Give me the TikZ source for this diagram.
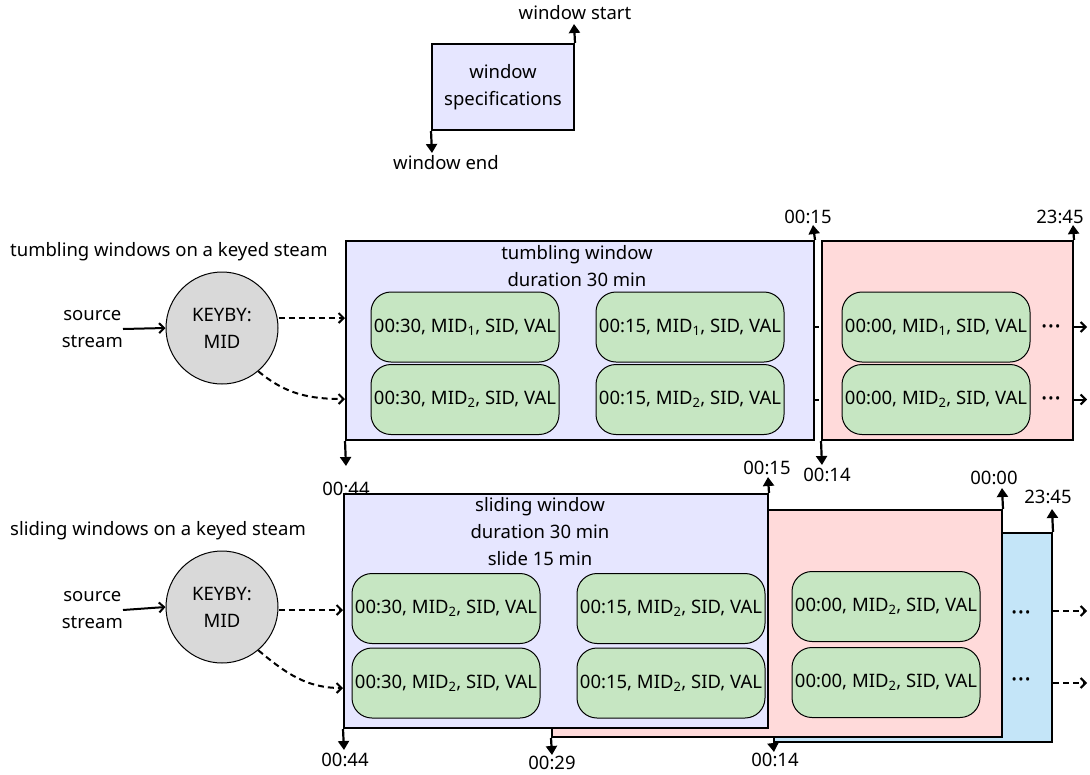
\documentclass[tikz,border=0pt]{standalone}
\usepackage{fontspec}
\setmainfont{Noto Sans}
\usetikzlibrary{arrows.meta}

\definecolor{winblue}{HTML}{E6E6FF}
\definecolor{winpink}{HTML}{FFDADA}
\definecolor{winsky}{HTML}{C4E5F8}
\definecolor{recgreen}{HTML}{C6E6C2}
\definecolor{keygray}{HTML}{D9D9D9}

\tikzset{
	winbox/.style={draw, line width=2pt, inner sep=0pt},
	record/.style={draw, line width=1pt, fill=recgreen, rounded corners=20pt,
		minimum width=188pt, minimum height=70pt, inner sep=0pt},
	keyby/.style={draw, circle, line width=1pt, fill=keygray, minimum size=112pt,
		inner sep=0pt, align=center},
	txt/.style={inner sep=0pt, align=center},
	tick/.style={>={Stealth[length=9pt, width=11pt, inset=0pt]}, ->, line width=2.2pt},
	flow/.style={>={Straight Barb[length=5pt, width=10pt]}, ->, dash pattern=on 6pt off 4pt, line width=2pt},
	dots/.style={inner sep=0pt, font=\fontsize{14}{14}\selectfont},
}

\newcommand{\rec}[2]{#1, MID\textsubscript{#2}, SID, VAL}
\newcommand{\etc}{•\hspace{1.5pt}•\hspace{1.5pt}•}

\begin{document}
\begin{tikzpicture}[x=1pt, y=-1pt, font=\fontsize{18.5}{27}\selectfont]
	\useasboundingbox (0,0) rectangle (1090,774);
	% legende
	\node[winbox, fill=winblue, minimum width=142pt, minimum height=86pt, txt] (spec) at (503,87) {window\\specifications};
	\coordinate (specS) at (574,24);
	\coordinate (specE) at (432,153);
	\draw[tick] (spec.north east) -- (specS);
	\draw[tick] (spec.south west) -- (specE);
	\node[txt, anchor=south] (specStart) at (575,20) {window start};
	\node[txt, anchor=north] (specEnd) at (446,155) {window end};

	% fenetres tumbling
	\node[txt, anchor=west] (tumbLabel) at (10,252) {tumbling windows on a keyed steam};
	\node[winbox, fill=winblue, minimum width=468pt, minimum height=199pt] (tumbA) at (580,340.5) {};
	\node[winbox, fill=winpink, minimum width=251pt, minimum height=199pt] (tumbB) at (947.5,340.5) {};
	\node[txt] (tumbTitle) at (577,266) {tumbling window\\duration 30 min};
	\node[record] (tA1) at (465,327) {\rec{00:30}{1}};
	\node[record] (tA2) at (465,399.5) {\rec{00:30}{2}};
	\node[record] (tB1) at (690,327) {\rec{00:15}{1}};
	\node[record] (tB2) at (690,399.5) {\rec{00:15}{2}};
	\node[record] (tC1) at (936,327) {\rec{00:00}{1}};
	\node[record] (tC2) at (936,399.5) {\rec{00:00}{2}};
	\node[dots] (tDots1) at (1051,328) {\etc};
	\node[dots] (tDots2) at (1051,400) {\etc};
	\coordinate (tOut1) at (1087,327);
	\coordinate (tOut2) at (1087,399.5);
	\draw[flow, solid] (tumbB.east |- tOut1) -- (tOut1);
	\draw[flow, solid] (tumbB.east |- tOut2) -- (tOut2);
	\draw[line width=2pt] (814,327) -- (819,327);
	\draw[line width=2pt] (814,399.5) -- (819,399.5);
	% bornes
	\coordinate (tAS) at (813,225);
	\coordinate (tAE) at (346,466);
	\coordinate (tBS) at (1073,225);
	\coordinate (tBE) at (822,465);
	\draw[tick] (tumbA.north east) -- (tAS);
	\draw[tick] (tumbA.south west) -- (tAE);
	\draw[tick] (tumbB.north east) -- (tBS);
	\draw[tick] (tumbB.south west) -- (tBE);
	\node[txt, anchor=south] at (808,224) {00:15};
	\node[txt, anchor=north] at (346,482) {00:44};
	\node[txt, anchor=south] at (1060,224) {23:45};
	\node[txt, anchor=north] at (827,468) {00:14};
	% entree
	\node[keyby] (tKey) at (222,328) {KEYBY:\\MID};
	\node[txt, anchor=east] (tSrc) at (123,329) {source\\stream};
	\draw[flow, solid] (tSrc.east) -- (tKey.west);
	\draw[flow] (tKey.east |- 0,318) -- (tumbA.west |- 0,318);
	\draw[flow] (tKey.-50) to[out=-40, in=180] (tumbA.west |- 0,399);

	% fenetres sliding
	\node[txt, anchor=west] (slidLabel) at (10,531) {sliding windows on a keyed steam};
	\node[winbox, fill=winsky, minimum width=278pt, minimum height=209pt] (slidC) at (913,637.5) {};
	\node[winbox, fill=winpink, minimum width=450pt, minimum height=227pt] (slidB) at (777,623.5) {};
	\node[winbox, fill=winblue, minimum width=424pt, minimum height=234pt] (slidA) at (556,611) {};
	\node[txt] (slidTitle) at (540,532) {sliding window\\duration 30 min\\slide 15 min};
	\node[record] (sA1) at (446,608.5) {\rec{00:30}{2}};
	\node[record] (sA2) at (446,683) {\rec{00:30}{2}};
	\node[record] (sB1) at (671,608.5) {\rec{00:15}{2}};
	\node[record] (sB2) at (671,683) {\rec{00:15}{2}};
	\node[record] (sC1) at (886,606.5) {\rec{00:00}{2}};
	\node[record] (sC2) at (886,682.5) {\rec{00:00}{2}};
	\node[dots] (sDots1) at (1021,614) {\etc};
	\node[dots] (sDots2) at (1021,681) {\etc};
	\coordinate (sOut1) at (1087,611);
	\coordinate (sOut2) at (1087,683);
	\draw[flow] (slidC.east |- sOut1) -- (sOut1);
	\draw[flow] (slidC.east |- sOut2) -- (sOut2);
	% bornes
	\coordinate (sAS) at (768,477);
	\coordinate (sAE) at (344,750);
	\coordinate (sBS) at (1002,488);
	\coordinate (sBE) at (552,755);
	\coordinate (sCS) at (1052,509);
	\coordinate (sCE) at (774,752);
	\draw[tick] (slidA.north east) -- (sAS);
	\draw[tick] (slidA.south west) -- (sAE);
	\draw[tick] (slidB.north east) -- (sBS);
	\draw[tick] (slidB.south west) -- (sBE);
	\draw[tick] (slidC.north east) -- (sCS);
	\draw[tick] (slidC.south west) -- (sCE);
	\node[txt, anchor=south] at (767,475) {00:15};
	\node[txt, anchor=north] at (345,753) {00:44};
	\node[txt, anchor=south] at (994,485) {00:00};
	\node[txt, anchor=north] at (552,756) {00:29};
	\node[txt, anchor=south] at (1048,504) {23:45};
	\node[txt, anchor=north] at (775,753) {00:14};
	% entree
	\node[keyby] (sKey) at (222,607) {KEYBY:\\MID};
	\node[txt, anchor=east] (sSrc) at (123,610) {source\\stream};
	\draw[flow, solid] (sSrc.east) -- (sKey.west);
	\draw[flow] (sKey.east |- 0,610) -- (slidA.west |- 0,610);
	\draw[flow] (sKey.-50) to[out=-40, in=180] (slidA.west |- 0,688);
\end{tikzpicture}
\end{document}
